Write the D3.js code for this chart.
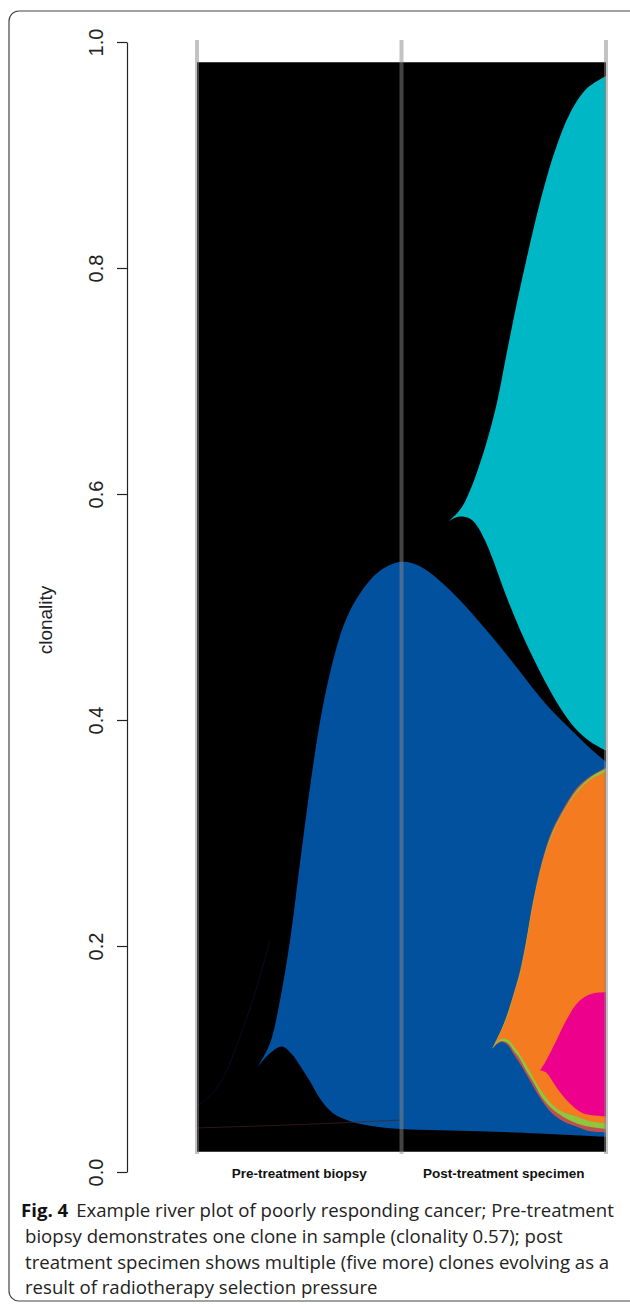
<!DOCTYPE html>
<html>
<head>
<meta charset="utf-8">
<script src="https://cdn.jsdelivr.net/npm/d3@7"></script>
<style>
  html, body { margin: 0; padding: 0; background: #fff; }
  svg { display: block; }
</style>
</head>
<body>
<svg id="chart" width="630" height="1307"></svg>
<script>
// timepoints 0 = pre-treatment, 1 = post-treatment, 2 = end of plot
const timeLabels = ["Pre-treatment biopsy", "Post-treatment specimen"];
const yTicks = [0, 0.2, 0.4, 0.6, 0.8, 1.0];

// clone edges as [time, clonality]
const rootTop = [[0, 0.982], [2, 0.982]];
const rootBottom = [[0, 0.018], [2, 0.018]];

const blueTop = [
  [0.293, 0.092], [0.357, 0.114], [0.406, 0.152], [0.455, 0.205], [0.504, 0.274],
  [0.553, 0.341], [0.601, 0.398], [0.660, 0.449], [0.724, 0.487], [0.797, 0.512],
  [0.895, 0.532], [1.000, 0.540], [1.090, 0.536], [1.188, 0.523], [1.286, 0.506],
  [1.384, 0.486], [1.482, 0.465], [1.579, 0.443], [1.711, 0.413], [1.848, 0.388],
  [1.922, 0.375], [2.000, 0.363]
];
const blueBottom = [
  [0.293, 0.092], [0.357, 0.105], [0.416, 0.111], [0.465, 0.104], [0.504, 0.094],
  [0.553, 0.080], [0.601, 0.065], [0.665, 0.052], [0.748, 0.045], [0.846, 0.041],
  [1.000, 0.038], [1.384, 0.036], [1.677, 0.034], [2.000, 0.031]
];

const cyanTop = [
  [1.232, 0.576], [1.267, 0.582], [1.301, 0.590], [1.335, 0.603], [1.374, 0.622],
  [1.418, 0.647], [1.467, 0.681], [1.516, 0.726], [1.565, 0.770], [1.619, 0.814],
  [1.677, 0.858], [1.751, 0.904], [1.824, 0.937], [1.907, 0.959], [2.000, 0.970]
];
const cyanBottom = [
  [1.232, 0.576], [1.262, 0.579], [1.296, 0.580], [1.335, 0.578], [1.369, 0.572],
  [1.408, 0.559], [1.447, 0.542], [1.487, 0.522], [1.531, 0.501], [1.579, 0.480],
  [1.638, 0.457], [1.702, 0.434], [1.775, 0.411], [1.848, 0.393], [1.922, 0.381],
  [2.000, 0.373]
];

// nested red > green > orange clones share one time grid
const subTimes = [1.443, 1.467, 1.491, 1.521, 1.550, 1.579, 1.609, 1.643, 1.687, 1.736, 1.790, 1.858, 1.922, 2.000];
const redLo    = [0.109, 0.113, 0.115, 0.112, 0.104, 0.096, 0.087, 0.076, 0.063, 0.052, 0.045, 0.040, 0.036, 0.035];
const redHi    = [0.109, 0.118, 0.127, 0.142, 0.159, 0.178, 0.204, 0.240, 0.275, 0.302, 0.321, 0.340, 0.350, 0.358];
const greenLo  = [0.109, 0.114, 0.116, 0.114, 0.107, 0.100, 0.090, 0.080, 0.066, 0.056, 0.049, 0.043, 0.040, 0.038];
const greenHi  = [0.109, 0.118, 0.127, 0.141, 0.158, 0.176, 0.203, 0.238, 0.273, 0.300, 0.319, 0.338, 0.349, 0.357];
const orangeLo = [0.109, 0.115, 0.118, 0.117, 0.111, 0.104, 0.095, 0.084, 0.071, 0.060, 0.053, 0.049, 0.045, 0.043];
const orangeHi = [0.109, 0.117, 0.126, 0.139, 0.157, 0.174, 0.201, 0.236, 0.272, 0.298, 0.318, 0.336, 0.347, 0.354];

const pinkTop = [
  [1.677, 0.090], [1.702, 0.097], [1.726, 0.105], [1.756, 0.116], [1.785, 0.127],
  [1.814, 0.137], [1.848, 0.147], [1.888, 0.154], [1.936, 0.158], [2.000, 0.159]
];
const pinkBottom = [
  [1.677, 0.090], [1.707, 0.088], [1.736, 0.081], [1.765, 0.073], [1.800, 0.065],
  [1.839, 0.058], [1.888, 0.052], [1.946, 0.050], [2.000, 0.049]
];

// faint outlines of near-zero clones
const faintBlue = [[0.0, 0.058], [0.10, 0.075], [0.25, 0.140], [0.357, 0.205]];
const faintRed  = [[0.0, 0.039], [0.5, 0.042], [1.0, 0.046]];

const captionLines = [
  "biopsy demonstrates one clone in sample (clonality 0.57); post",
  "treatment specimen shows multiple (five more) clones evolving as a",
  "result of radiotherapy selection pressure"
];

const colBlack = "#000000";
const colBlue = "#02519e";
const colCyan = "#00b7c6";
const colRed = "#c0504d";
const colGreen = "#8dc63f";
const colOrange = "#f47b20";
const colPink = "#ec008c";

const svg = d3.select("#chart");

// frame round the figure
svg.append("rect")
  .attr("x", 9).attr("y", 11)
  .attr("width", 660).attr("height", 1290)
  .attr("rx", 10)
  .attr("fill", "none")
  .attr("stroke", "#444")
  .attr("stroke-width", 1.2);

const x = d3.scaleLinear().domain([0, 2]).range([197, 606]);
const y = d3.scaleLinear().domain([0, 1]).range([1172, 42]);

const line = d3.line()
  .x(d => x(d[0]))
  .y(d => y(d[1]))
  .curve(d3.curveCatmullRom.alpha(0.5));

// closed shape: along the top edge, then back along the bottom edge
const clonePath = (top, bottom) =>
  line(top) + "L" + line(bottom.slice().reverse()).slice(1) + "Z";

const zipEdge = (ts, vals) => ts.map((t, i) => [t, vals[i]]);

const clones = [
  { top: rootTop, bottom: rootBottom, color: colBlack },
  { top: cyanTop, bottom: cyanBottom, color: colCyan },
  { top: blueTop, bottom: blueBottom, color: colBlue },
  { top: zipEdge(subTimes, redHi), bottom: zipEdge(subTimes, redLo), color: colRed },
  { top: zipEdge(subTimes, greenHi), bottom: zipEdge(subTimes, greenLo), color: colGreen },
  { top: zipEdge(subTimes, orangeHi), bottom: zipEdge(subTimes, orangeLo), color: colOrange },
  { top: pinkTop, bottom: pinkBottom, color: colPink }
];

const plot = svg.append("g");

plot.selectAll("path.clone")
  .data(clones)
  .join("path")
  .attr("class", "clone")
  .attr("d", d => clonePath(d.top, d.bottom))
  .attr("fill", d => d.color);

plot.append("path")
  .attr("d", line(faintBlue))
  .attr("fill", "none")
  .attr("stroke", "#0b2a55")
  .attr("stroke-width", 1)
  .attr("opacity", 0.35);

plot.append("path")
  .attr("d", line(faintRed))
  .attr("fill", "none")
  .attr("stroke", "#4a2020")
  .attr("stroke-width", 1)
  .attr("opacity", 0.7);

// vertical timepoint lines
plot.selectAll("line.vline")
  .data([0, 1, 2])
  .join("line")
  .attr("class", "vline")
  .attr("x1", d => x(d)).attr("x2", d => x(d))
  .attr("y1", y(1.0) - 2).attr("y2", y(0.016))
  .attr("stroke", "#888")
  .attr("stroke-opacity", 0.5)
  .attr("stroke-width", 4);

// y axis
const yAxis = svg.append("g")
  .attr("transform", "translate(127,0)")
  .call(d3.axisLeft(y).tickValues(yTicks).tickFormat(d3.format(".1f")).tickSize(10).tickSizeOuter(0));

yAxis.select(".domain").attr("stroke", "#222").attr("stroke-width", 1.2);
yAxis.selectAll(".tick line").attr("stroke", "#222").attr("stroke-width", 1.2);
yAxis.selectAll(".tick text")
  .attr("x", null).attr("dy", null)
  .attr("transform", "translate(-24,0) rotate(-90)")
  .attr("text-anchor", "middle")
  .attr("fill", "#222")
  .style("font-family", "'Liberation Sans', Arial, sans-serif")
  .style("font-size", "20px");

svg.append("text")
  .attr("transform", "translate(52,620) rotate(-90)")
  .attr("text-anchor", "middle")
  .style("font-family", "'Liberation Sans', Arial, sans-serif")
  .style("font-size", "19px")
  .attr("fill", "#222")
  .text("clonality");

// timepoint labels
svg.selectAll("text.tlab")
  .data(timeLabels)
  .join("text")
  .attr("class", "tlab")
  .attr("x", (d, i) => (x(i) + x(i + 1)) / 2)
  .attr("y", 1178)
  .attr("text-anchor", "middle")
  .style("font-family", "'Liberation Sans', Arial, sans-serif")
  .style("font-weight", "bold")
  .style("font-size", "13.5px")
  .attr("fill", "#111")
  .text(d => d);

// caption
const cap = svg.append("g")
  .style("font-family", "'Open Sans', 'Noto Sans', sans-serif")
  .style("font-size", "18.6px")
  .attr("fill", "#222");

const first = cap.append("text").attr("x", 21).attr("y", 1217);
first.append("tspan").style("font-weight", "bold").attr("fill", "#111").text("Fig. 4");
first.append("tspan").attr("dx", 8).text("Example river plot of poorly responding cancer; Pre-treatment");

cap.selectAll("text.cl")
  .data(captionLines)
  .join("text")
  .attr("class", "cl")
  .attr("x", 25)
  .attr("y", (d, i) => 1243 + i * 25.7)
  .text(d => d);
</script>
</body>
</html>
